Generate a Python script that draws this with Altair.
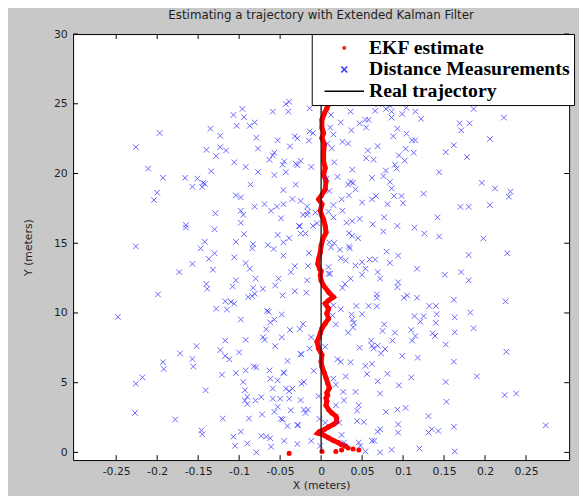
import altair as alt
import pandas as pd

TITLE = "Estimating a trajectory with Extended Kalman Filter"
SERIES = ["EKF estimate", "Distance Measurements", "Real trajectory"]
X_TICKS = [-0.25, -0.2, -0.15, -0.1, -0.05, 0, 0.05, 0.1, 0.15, 0.2, 0.25]
Y_TICKS = [0, 5, 10, 15, 20, 25, 30]
X_DOMAIN = [-0.3026, 0.3026]
Y_DOMAIN = [-0.55, 30]

MEAS_A = [(-0.039, 25.15), (-0.043, 24.98), (-0.096, 24.63), (-0.107, 24.2), (-0.094, 24.04), (-0.059, 24.44),
          (-0.040, 24.44), (-0.014, 24.67), (-0.081, 23.66), (-0.087, 23.42), (-0.103, 23.42), (-0.135, 23.21),
          (-0.197, 22.9), (-0.123, 22.71), (-0.079, 22.57), (-0.053, 22.38), (-0.032, 22.67), (-0.029, 22.52),
          (-0.014, 23.02), (-0.010, 22.9), (-0.015, 22.36), (-0.226, 21.89), (-0.140, 21.7), (-0.123, 21.89),
          (-0.116, 21.65), (-0.077, 21.79), (-0.057, 21.49), (-0.059, 21.3), (-0.038, 21.94), (-0.128, 21.25),
          (0.012, 24.2), (0.011, 23.3), (0.015, 22.8), (0.008, 22.15), (0.013, 21.8), (0.036, 24.44),
          (0.024, 23.66), (0.037, 23.1), (0.026, 22.27), (0.033, 22.15), (0.047, 23.6), (0.054, 23.85),
          (0.058, 23.85), (0.055, 23.3), (0.057, 21.65), (0.069, 21.96), (0.055, 21.1), (0.066, 24.5),
          (0.070, 24.98), (0.079, 24.63), (0.084, 24.86), (0.086, 24.44), (0.086, 24.01), (0.099, 24.27),
          (0.104, 24.72), (0.115, 24.44), (0.122, 23.92), (0.093, 23.21), (0.104, 22.86), (0.088, 22.67),
          (0.111, 22.38), (0.115, 22.38), (0.103, 21.77), (0.113, 21.49), (0.095, 21.3), (0.152, 21.53),
          (0.162, 22.03), (0.178, 21.18), (0.169, 23.6), (0.181, 23.6), (0.171, 23.1), (0.186, 24.63),
          (0.223, 24.01), (0.206, 22.48)]
MEAS_B = [(-0.106, 20.8), (-0.092, 20.47), (-0.077, 20.11), (-0.063, 20.99), (-0.047, 20.63), (-0.045, 20.87),
          (-0.031, 20.7), (-0.029, 20.6), (-0.025, 20.9), (-0.012, 20.47), (-0.057, 19.88), (-0.043, 20.09),
          (-0.211, 20.35), (-0.193, 19.69), (-0.166, 19.69), (-0.151, 19.64), (-0.144, 19.33), (-0.142, 19.26),
          (-0.145, 19.03), (-0.157, 19.05), (-0.134, 20.16), (-0.086, 19.21), (-0.031, 19.21), (-0.200, 18.62),
          (-0.204, 18.1), (-0.046, 18.81), (-0.104, 18.43), (-0.098, 18.29), (-0.035, 18.17), (-0.025, 18.03),
          (-0.069, 17.8), (-0.081, 17.63), (-0.054, 17.63), (-0.046, 17.8), (-0.061, 17.33), (-0.098, 17.33),
          (-0.095, 17.04), (-0.129, 17.14), (-0.017, 17.63), (-0.016, 17.26), (-0.022, 17.04), (-0.017, 17.04),
          (-0.049, 16.79), (-0.007, 17.2),
          (0.016, 20.8), (0.007, 19.64), (0.020, 19.76), (0.010, 18.74), (0.015, 17.73), (0.009, 17.26),
          (0.026, 17.33), (0.015, 16.86), (0.025, 18.15), (0.034, 18.43), (0.033, 19.21), (0.036, 19.4),
          (0.039, 19.33), (0.042, 18.86), (0.038, 20.28), (0.050, 17.92), (0.064, 20.99), (0.062, 19.69),
          (0.062, 18.15), (0.067, 18.39), (0.076, 19.81), (0.079, 20.21), (0.084, 19.4), (0.086, 18.93),
          (0.089, 18.39), (0.081, 17.8), (0.090, 20.63), (0.092, 20.35), (0.102, 20.92), (0.098, 18.39),
          (0.100, 17.87), (0.047, 16.74), (0.077, 16.86), (0.125, 18.55), (0.144, 20.09), (0.142, 16.86),
          (0.170, 17.61), (0.180, 17.61), (0.196, 19.33), (0.212, 18.93), (0.206, 17.73), (0.231, 18.7),
          (0.229, 18.34)]
MEAS_C = [(-0.165, 16.31), (-0.165, 16.12), (-0.130, 16.0), (-0.098, 16.47), (-0.094, 15.65), (-0.053, 15.6),
          (-0.039, 15.36), (-0.027, 16.24), (-0.026, 16.22), (-0.025, 15.7), (-0.019, 15.7), (-0.010, 16.24),
          (-0.005, 16.43), (-0.226, 14.77), (-0.142, 15.1), (-0.147, 14.63), (-0.104, 15.1), (-0.083, 14.94),
          (-0.084, 14.63), (-0.065, 14.87), (-0.058, 14.59), (-0.046, 15.06), (-0.130, 14.28), (-0.137, 13.88),
          (-0.106, 13.99), (-0.157, 13.52), (-0.173, 12.93), (-0.132, 13.1), (-0.092, 13.57), (-0.087, 13.17),
          (-0.046, 14.11), (-0.032, 13.36), (-0.037, 12.93), (-0.015, 14.3), (-0.016, 13.36), (-0.104, 12.34),
          (-0.080, 12.46), (-0.052, 12.46), (-0.017, 12.34),
          (0.031, 16.47), (0.038, 16.59), (0.063, 16.36), (0.093, 16.24), (0.114, 16.12), (0.126, 15.7),
          (0.144, 15.48), (0.198, 15.34), (0.076, 15.84), (0.034, 15.72), (0.038, 15.53), (0.045, 15.36),
          (0.010, 15.06), (0.016, 15.01), (0.012, 14.7), (0.023, 14.54), (0.034, 14.77), (0.035, 14.63),
          (0.024, 13.93), (0.030, 13.76), (0.042, 13.4), (0.050, 13.64), (0.059, 13.83), (0.066, 13.83),
          (0.054, 13.17), (0.050, 12.74), (0.084, 13.59), (0.080, 14.4), (0.094, 14.11), (0.069, 12.93),
          (0.072, 12.46), (0.036, 12.46), (0.009, 12.81), (0.011, 12.81), (0.009, 13.29), (0.117, 13.17),
          (0.151, 12.74), (0.171, 12.93), (0.180, 12.34), (0.180, 14.16), (0.227, 14.28)]
MEAS_D = [(-0.140, 12.08), (-0.139, 11.73), (-0.108, 11.9), (-0.083, 11.8), (-0.081, 11.38), (-0.084, 11.21),
          (-0.071, 11.73), (-0.056, 11.97), (-0.032, 11.56), (-0.018, 11.45), (-0.047, 11.26), (-0.089, 11.14),
          (-0.199, 11.33), (-0.117, 10.83), (-0.110, 10.79), (-0.106, 10.67), (-0.128, 10.31), (-0.115, 10.24),
          (-0.066, 10.15), (-0.064, 10.08), (-0.048, 9.89), (-0.248, 9.72), (-0.098, 9.53), (-0.057, 9.53),
          (-0.062, 9.32), (-0.022, 9.2), (-0.067, 8.83), (-0.038, 8.78), (-0.026, 8.85), (-0.117, 8.02),
          (-0.092, 8.07), (-0.071, 8.26), (-0.069, 8.07), (-0.048, 8.26), (-0.012, 8.26),
          (0.026, 11.8), (0.029, 12.08), (0.094, 12.2), (0.093, 11.85), (0.068, 11.33), (0.068, 11.09),
          (0.101, 11.09), (0.105, 11.26), (0.117, 11.09), (0.162, 10.95), (0.225, 10.83), (0.043, 10.5),
          (0.058, 10.5), (0.068, 10.48), (0.132, 10.5), (0.140, 10.5), (0.015, 10.55), (0.024, 10.27),
          (0.037, 9.89), (0.050, 9.91), (0.014, 9.82), (0.038, 9.53), (0.040, 9.3), (0.018, 9.18),
          (0.033, 8.59), (0.039, 8.97), (0.114, 9.77), (0.125, 9.77), (0.121, 9.37), (0.141, 9.91),
          (0.163, 9.68), (0.182, 10.03), (0.140, 9.3), (0.077, 9.18), (0.075, 8.71), (0.090, 8.59),
          (0.110, 8.78), (0.115, 8.35), (0.136, 8.54), (0.139, 8.35), (0.163, 8.61), (0.186, 8.9),
          (0.061, 8.02), (0.087, 8.02), (0.111, 8.02)]
MEAS_E = [(-0.152, 7.62), (-0.056, 7.62), (-0.172, 7.1), (-0.123, 7.34), (-0.117, 6.92), (-0.112, 6.68),
          (-0.100, 7.17), (-0.157, 6.7), (-0.156, 6.16), (-0.193, 6.47), (-0.192, 5.99), (-0.226, 4.93),
          (-0.218, 5.38), (-0.121, 5.57), (-0.104, 5.69), (-0.092, 5.88), (-0.082, 6.16), (-0.079, 6.11),
          (-0.063, 5.88), (-0.041, 6.56), (-0.025, 7.06), (-0.024, 7.03), (-0.014, 7.46), (-0.046, 5.73),
          (-0.045, 5.69), (-0.062, 5.29), (-0.053, 5.17), (-0.009, 5.85), (-0.095, 5.05), (-0.141, 4.46),
          (-0.093, 4.46), (-0.059, 4.58), (-0.043, 4.58), (-0.039, 4.39), (-0.035, 4.58), (-0.024, 4.93),
          (-0.021, 5.05), (-0.090, 3.99), (-0.093, 3.73), (-0.080, 3.73), (-0.073, 3.96), (-0.059, 3.85),
          (-0.050, 3.85), (-0.039, 3.85), (-0.025, 3.75), (-0.003, 4.03),
          (0.005, 7.58), (0.047, 7.51), (0.062, 7.65), (0.064, 7.46), (0.069, 7.65), (0.078, 7.41),
          (0.073, 7.1), (0.152, 7.74), (0.099, 6.92), (0.118, 6.8), (0.162, 6.51), (0.226, 7.22),
          (0.020, 6.68), (0.024, 6.51), (0.036, 6.47), (0.054, 6.21), (0.062, 6.35), (0.015, 5.29),
          (0.030, 5.45), (0.018, 4.86), (0.056, 5.62), (0.081, 5.64), (0.069, 5.1), (0.095, 4.81),
          (0.110, 5.38), (0.152, 5.05), (0.190, 5.45), (0.027, 4.34), (0.042, 4.34), (0.072, 4.22),
          (0.028, 3.73), (0.153, 3.63), (0.224, 4.11), (0.238, 4.22)]
MEAS_F = [(-0.090, 3.47), (-0.227, 2.83), (-0.178, 2.36), (-0.120, 2.43), (-0.088, 2.43), (-0.072, 2.72),
          (-0.057, 2.9), (-0.053, 3.26), (-0.037, 3.02), (-0.021, 3.07), (-0.016, 3.07), (-0.019, 2.83),
          (-0.049, 2.41), (-0.047, 2.36), (-0.041, 1.89), (-0.029, 1.96), (-0.028, 1.96), (-0.002, 2.41),
          (-0.146, 1.58), (-0.145, 1.3), (-0.098, 1.49), (-0.107, 1.13), (-0.073, 1.18), (-0.067, 1.13),
          (-0.062, 1.02), (-0.090, 0.64), (-0.105, 0.47), (-0.045, 0.83), (-0.029, 0.6), (-0.061, 0.41),
          (-0.079, 0.0), (-0.012, 0.83), (-0.001, 0.47),
          (0.018, 3.38), (0.046, 3.38), (0.044, 3.0), (0.022, 2.13), (0.005, 2.13), (0.044, 2.25),
          (0.052, 2.18), (0.079, 2.91), (0.093, 3.07), (0.103, 3.19), (0.131, 2.6), (0.094, 2.01),
          (0.094, 1.42), (0.072, 1.66), (0.069, 1.49), (0.131, 1.42), (0.135, 1.66), (0.143, 1.54),
          (0.162, 1.84), (0.274, 1.94), (0.025, 1.25), (0.028, 0.71), (0.046, 0.71), (0.048, 0.47),
          (0.062, 0.83), (0.065, 0.83), (0.054, 0.07), (0.072, 0.0), (0.086, 0.19), (0.120, 0.28),
          (0.163, 0.07)]

# EKF estimates (red dots): first few scattered ones, then the dense path
EKF_START = [(-0.039, -0.07), (0.001, 0.07), (0.018, 0.07), (0.025, 0.17), (0.033, 0.31), (0.039, 0.24),
             (0.046, 0.17)]
EKF_PATH = [(0.030, 0.45), (0.025, 0.55), (0.021, 0.70), (0.015, 0.85), (0.009, 1.05), (0.003, 1.25),
            (-0.004, 1.38), (-0.002, 1.50), (0.004, 1.65), (0.009, 1.82), (0.015, 2.00), (0.019, 2.20),
            (0.019, 2.43), (0.018, 2.60), (0.013, 2.83), (0.009, 3.07), (0.006, 3.38), (0.007, 3.66),
            (0.006, 3.90), (0.008, 4.10), (0.007, 4.27), (0.010, 4.62), (0.008, 4.98), (0.006, 5.33),
            (0.004, 5.69), (0.001, 6.16), (0.000, 6.51), (0.001, 6.99), (-0.003, 7.46), (-0.005, 7.93),
            (-0.003, 8.19), (-0.001, 8.54), (0.001, 8.90), (0.005, 9.25), (0.009, 9.60), (0.007, 9.96),
            (0.009, 10.31), (0.005, 10.67), (0.009, 10.90), (0.015, 11.14), (0.009, 11.50), (0.003, 11.97),
            (0.000, 12.32), (-0.001, 12.70), (0.000, 13.00), (-0.002, 13.17), (-0.004, 13.52), (-0.003, 13.88),
            (-0.001, 14.35), (0.000, 14.82), (0.002, 15.29), (0.006, 15.77), (0.005, 16.24), (0.003, 16.71),
            (0.001, 16.97), (-0.001, 17.33), (0.001, 17.80), (-0.003, 18.15), (0.000, 18.39), (0.005, 18.86),
            (0.006, 19.45), (0.003, 19.92), (0.005, 20.40), (0.003, 20.87), (0.003, 21.49), (0.004, 22.08),
            (0.001, 22.55), (0.003, 22.90), (0.001, 23.26), (0.001, 23.85), (0.004, 24.32), (0.007, 24.67),
            (0.009, 24.98), (0.011, 25.2)]

REAL_X = [0, 0]
REAL_Y = [0, 25]

# ---------------------------------------------------------------- tables
meas = MEAS_A + MEAS_B + MEAS_C + MEAS_D + MEAS_E + MEAS_F
df_meas = pd.DataFrame(meas, columns=["x", "y"])
df_meas["series"] = SERIES[1]

df_ekf = pd.DataFrame(EKF_START + EKF_PATH, columns=["x", "y"])
df_ekf["series"] = SERIES[0]
df_path = pd.DataFrame(EKF_PATH, columns=["x", "y"])
df_path["i"] = range(len(df_path))

df_real = pd.DataFrame({"x": REAL_X, "y": REAL_Y})
df_xt = pd.DataFrame({"x": X_TICKS})
df_yt = pd.DataFrame({"y": Y_TICKS})

W, H = 503, 432
FONT = "DejaVu Sans"
TXT = "#1e1e1e"

XPATH = "M-1,-1L1,1M-1,1L1,-1"
DOTPATH = "M0.4,0A0.4,0.4,0,1,1,-0.4,0A0.4,0.4,0,1,1,0.4,0Z"
LINEPATH = "M-6.67,0L6.67,0"

xenc = alt.X("x:Q", scale=alt.Scale(domain=X_DOMAIN, nice=False, zero=False),
             axis=alt.Axis(values=X_TICKS, labelExpr="'' + datum.value", tickSize=0, domain=False,
                           grid=False, labelPadding=6, title="X (meters)", titleY=20,
                           titleBaseline="top"))
yenc = alt.Y("y:Q", scale=alt.Scale(domain=Y_DOMAIN, nice=False, zero=False),
             axis=alt.Axis(values=Y_TICKS, tickSize=0, domain=False, grid=False, labelPadding=6,
                           title="Y (meters)", titleX=-40, titleY=H / 2))

LEG = alt.Legend(title=None, orient="none", legendX=242, legendY=0, padding=4,
                 strokeColor="#000000", fillColor="#ffffff", symbolSize=36, symbolStrokeWidth=1.5,
                 symbolOffset=19, labelOffset=15, labelFont="Liberation Serif", labelFontWeight="bold",
                 labelFontSize=20, labelColor="#000000", labelLimit=400, rowPadding=2)
color = alt.Color("series:N", scale=alt.Scale(domain=SERIES, range=["#ff0000", "#3333ff", "#000000"]),
                  legend=LEG)
shape = alt.Shape("series:N", scale=alt.Scale(domain=SERIES, range=[DOTPATH, XPATH, LINEPATH]),
                  legend=LEG)

ekf_line = alt.Chart(df_path).mark_line(color="#ff0000", strokeWidth=5).encode(
    x=xenc, y=yenc, order="i:Q")
ekf_pts = alt.Chart(df_ekf).mark_point(filled=False, strokeWidth=2.6, size=40, opacity=1).encode(
    x=xenc, y=yenc, color=color, shape=shape)
meas_pts = alt.Chart(df_meas).mark_point(filled=False, strokeWidth=1, size=32, opacity=0.75).encode(
    x=xenc, y=yenc, color=color, shape=shape)
real_line = alt.Chart(df_real).mark_line(color="#202020", strokeWidth=1.4).encode(x=xenc, y=yenc)

tick_b = alt.Chart(df_xt).mark_rule(color="#000000").encode(x=xenc, y=alt.value(H), y2=alt.value(H - 5))
tick_t = alt.Chart(df_xt).mark_rule(color="#000000").encode(x=xenc, y=alt.value(0), y2=alt.value(5))
tick_l = alt.Chart(df_yt).mark_rule(color="#000000").encode(y=yenc, x=alt.value(0), x2=alt.value(5))
tick_r = alt.Chart(df_yt).mark_rule(color="#000000").encode(y=yenc, x=alt.value(W), x2=alt.value(W - 5))

chart = alt.layer(ekf_line, ekf_pts, meas_pts, real_line, tick_b, tick_t, tick_l, tick_r).properties(
    width=W, height=H,
    title=alt.TitleParams(TITLE, font=FONT, fontSize=12, fontWeight="normal", color=TXT, offset=6,
                          anchor="middle"),
    autosize=alt.AutoSizeParams(type="none"),
    padding={"left": 66, "top": 23, "right": 10, "bottom": 33},
    background="#c8c8c8",
).configure_view(
    stroke="#000000", strokeWidth=1, fill="#ffffff"
).configure_axis(
    labelFont=FONT, labelFontSize=11, labelColor=TXT, titleFont=FONT, titleFontSize=11,
    titleFontWeight="normal", titleColor=TXT
)

chart.save("out.html", embed_options={"renderer": "svg", "actions": False})
